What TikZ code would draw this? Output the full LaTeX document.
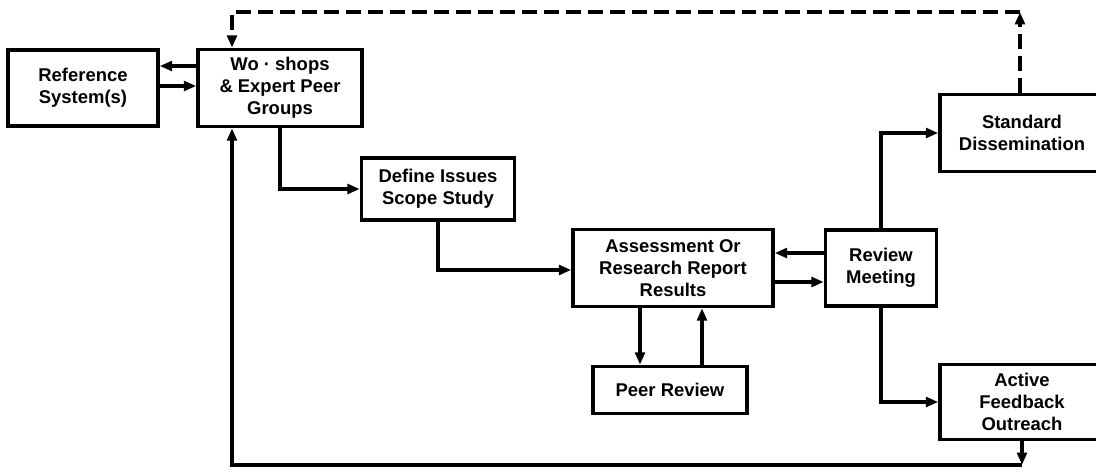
\documentclass[tikz,border=0pt]{standalone}
\usepackage{fontspec}
\setmainfont{Liberation Sans}
\usetikzlibrary{positioning,arrows.meta}

\begin{document}
\begin{tikzpicture} [x=0.02cm, y=-0.02cm, line width=2pt, >={Triangle[length=7pt,width=5.5pt]},
                    blok/.style={rectangle,draw,align=center,inner sep=0pt,
                    font=\fontsize{10.5}{12.5}\selectfont\bfseries}]

\useasboundingbox (0,0) rectangle (1096,473);

\node[blok, minimum width=3cm, minimum height=1.52cm] (RS) at (83,88) {Reference\\System(s)};
\node[blok, minimum width=3.28cm, minimum height=1.54cm] (WS) at (280,88) {Wo · shops\\\& Expert Peer\\Groups};
\node[blok, minimum width=3.06cm, minimum height=1.24cm] (DI) at (438,189) {Define Issues\\Scope Study};
\node[blok, minimum width=4cm, minimum height=1.54cm] (AS) at (673,268) {Assessment Or\\Research Report\\Results};
\node[blok, minimum width=3.08cm, minimum height=0.94cm] (PR) at (670,390) {Peer Review};
\node[blok, minimum width=2.22cm, minimum height=1.52cm] (RM) at (881,268) {Review\\Meeting};
\node[blok, minimum width=3.28cm, minimum height=1.54cm] (SD) at (1022,133) {Standard\\Dissemination};
\node[blok, minimum width=3.28cm, minimum height=1.5cm] (AF) at (1022,402) {Active\\Feedback\\Outreach};

\coordinate (low) at (1022,465);
\coordinate (lowl) at (232,465);
\coordinate (dtop) at (1020,12);
\coordinate (dtopl) at (232,12);

 \path[->]
    (WS.west |- 0,66) edge (RS.east |- 0,66)
    (RS.east |- 0,86) edge (WS.west |- 0,86)
    (AS.south -| 640,0) edge (PR.north -| 640,0)
    (PR.north -| 702,0) edge (AS.south -| 702,0)
    (RM.west |- 0,253) edge (AS.east |- 0,253)
    (AS.east |- 0,282) edge (RM.west |- 0,282)
    (AF.south -| low) edge (low);

\draw[->] (WS.south -| 280,0) |- (DI.west);
\draw[->] (DI.south) |- (AS.west |- 0,270);
\draw[->] (RM.north) |- (SD.west);
\draw[->] (RM.south) |- (AF.west);
\draw[->] (low) -- (lowl) -- (WS.south -| lowl);

% feedback loop at the top
\draw[dashed, dash pattern=on 8.5pt off 4pt, ->] (SD.north -| dtop) -- (dtop);
\draw[dashed, dash pattern=on 8.5pt off 4pt, ->] (dtop) -- (dtopl) -- (WS.north -| dtopl);
\end{tikzpicture}
\end{document}
